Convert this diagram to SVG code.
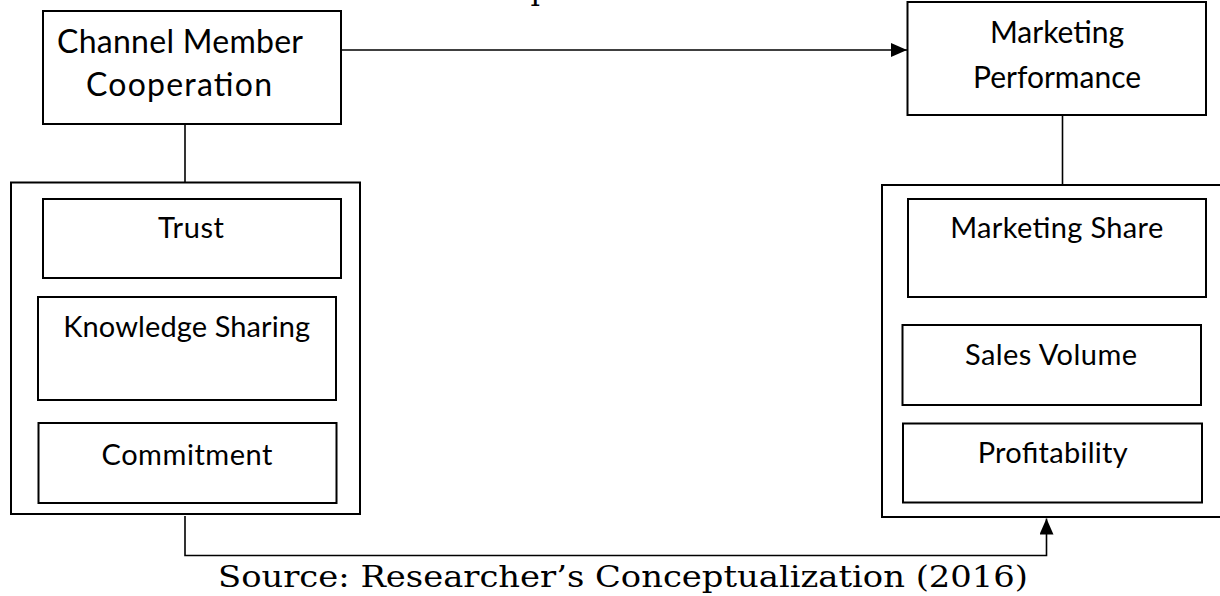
<svg xmlns="http://www.w3.org/2000/svg" width="1220" height="596" viewBox="0 0 1220 596">
<defs>
<style>
.box{fill:#fff;stroke:#000;stroke-width:2}
.frame{fill:none;stroke:#000;stroke-width:2}
.ln{fill:none;stroke:#000;stroke-width:1.6}
.t{font-family:Lato,"Open Sans","Liberation Sans",sans-serif;fill:#000;text-anchor:middle}
.big{font-size:32px}
.mid{font-size:30px}
.sm{font-size:29px}
.serif{font-family:"DejaVu Serif","Liberation Serif",serif;fill:#000;font-size:30px}
</style>
<marker id="ah" markerWidth="16" markerHeight="14" refX="16" refY="7" orient="auto" markerUnits="userSpaceOnUse">
<path d="M0,0 L16,7 L0,14 Z" fill="#000"/>
</marker>
</defs>
<rect width="1220" height="596" fill="#fff"/>
<text class="serif" x="628" y="0" text-anchor="middle">performance</text>

<g id="connectors">
<line class="ln" x1="341" y1="50" x2="907" y2="50" marker-end="url(#ah)"/>
<line class="ln" x1="185" y1="124" x2="185" y2="182"/>
<line class="ln" x1="1062.5" y1="115" x2="1062.5" y2="185"/>
<polyline class="ln" points="185,516 185,555.5 1046.5,555.5 1046.5,518.5" marker-end="url(#ah)"/>
</g>

<g id="channel-member-cooperation">
<rect class="box" x="43" y="11" width="298" height="113"/>
<text class="t big" x="180" y="53" textLength="246">Channel Member</text>
<text class="t big" x="179" y="96" textLength="186">Cooperation</text>
</g>

<g id="marketing-performance">
<rect class="box" x="907.5" y="2" width="298.5" height="113"/>
<text class="t mid" x="1057" y="43.3">Marketing</text>
<text class="t mid" x="1057" y="88.3">Performance</text>
</g>

<g id="cooperation-dimensions">
<rect class="frame" x="11" y="182.5" width="349" height="331.5"/>
</g>
<g id="trust">
<rect class="box" x="43" y="199" width="298" height="79"/>
<text class="t sm" x="191" y="238.3" textLength="66">Trust</text>
</g>
<g id="knowledge-sharing">
<rect class="box" x="38" y="297" width="298" height="103"/>
<text class="t sm" x="186.7" y="336.7" textLength="247">Knowledge Sharing</text>
</g>
<g id="commitment">
<rect class="box" x="38.5" y="423" width="298" height="80"/>
<text class="t sm" x="187" y="465" textLength="171">Commitment</text>
</g>

<g id="performance-dimensions">
<rect class="frame" x="882" y="185" width="360" height="332"/>
</g>
<g id="marketing-share">
<rect class="box" x="908" y="199" width="298" height="98"/>
<text class="t sm" x="1056.7" y="238.3" textLength="213">Marketing Share</text>
</g>
<g id="sales-volume">
<rect class="box" x="902.5" y="325" width="298.5" height="80"/>
<text class="t sm" x="1051" y="365" textLength="172">Sales Volume</text>
</g>
<g id="profitability">
<rect class="box" x="903" y="423.5" width="299" height="79"/>
<text class="t sm" x="1052.7" y="463.3" textLength="150">Profitability</text>
</g>

<text class="serif" x="218" y="586.5" textLength="810" lengthAdjust="spacingAndGlyphs">Source: Researcher’s Conceptualization (2016)</text>
</svg>
